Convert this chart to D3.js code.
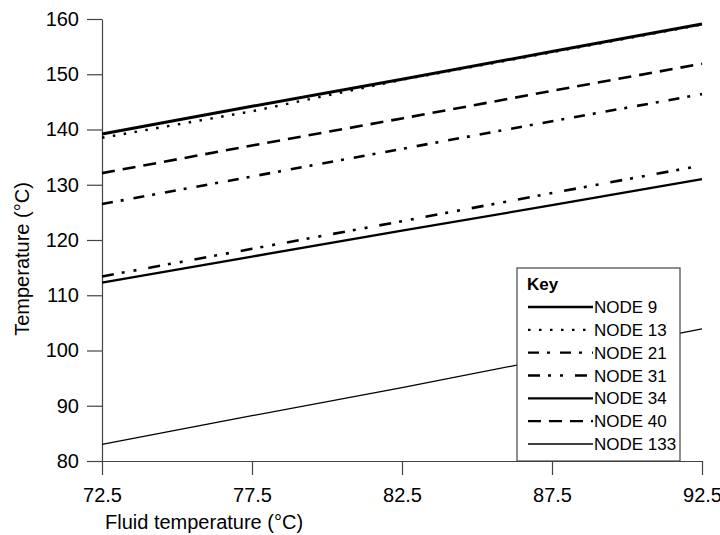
<!DOCTYPE html>
<html>
<head>
<meta charset="utf-8">
<script src="https://cdn.jsdelivr.net/npm/d3@7"></script>
<style>
  body { margin: 0; background: #fff; }
  svg { font-family: "Liberation Sans", Arial, sans-serif; }
</style>
</head>
<body>
<script>
// fluid temperature (x) values
var fluidTemps = [72.5, 77.5, 82.5, 87.5, 92.5];

// node temperatures, one array per node
var node9   = [139.2, 144.2, 149.1, 154.1, 159.1];
var node13  = [138.5, 143.3, 149.0, 154.0, 159.0];
var node21  = [126.5, 131.5, 136.5, 141.5, 146.4];
var node31  = [113.4, 118.4, 123.4, 128.5, 133.5];
var node34  = [112.3, 117.0, 121.7, 126.3, 131.0];
var node40  = [132.1, 137.1, 142.0, 147.0, 151.9];
var node133 = [83.0, 88.2, 93.3, 98.6, 103.9];

var nodeNames = ["NODE 9", "NODE 13", "NODE 21", "NODE 31", "NODE 34", "NODE 40", "NODE 133"];
var xTicks = [72.5, 77.5, 82.5, 87.5, 92.5];
var yTicks = [80, 90, 100, 110, 120, 130, 140, 150, 160];

// line styles
var styles = {
  "NODE 9":   {width: 3,   dash: null},
  "NODE 13":  {width: 2.5, dash: "2.5,8.5"},
  "NODE 21":  {width: 2.6, dash: "11,8,3,10"},
  "NODE 31":  {width: 2.6, dash: "12,8,3,9,3,12"},
  "NODE 34":  {width: 2.3, dash: null},
  "NODE 40":  {width: 2.6, dash: "13,8"},
  "NODE 133": {width: 1.3, dash: null}
};

var series = [
  {name: "NODE 9", values: node9},
  {name: "NODE 13", values: node13},
  {name: "NODE 21", values: node21},
  {name: "NODE 31", values: node31},
  {name: "NODE 34", values: node34},
  {name: "NODE 40", values: node40},
  {name: "NODE 133", values: node133}
];

var w = 720, h = 535;
var plotLeft = 102, plotRight = 702, plotTop = 19, plotBottom = 461;

var svg = d3.select("body").append("svg")
  .attr("width", w)
  .attr("height", h);

var x = d3.scaleLinear().domain([72.5, 92.5]).range([plotLeft, plotRight]);
var y = d3.scaleLinear().domain([80, 160]).range([plotBottom, plotTop]);

var axisColor = "#444";

// y axis
var gy = svg.append("g")
  .attr("transform", "translate(" + plotLeft + ",0)")
  .call(d3.axisLeft(y).tickValues(yTicks).tickSize(15).tickSizeOuter(0).tickPadding(8));

// x axis
var gx = svg.append("g")
  .attr("transform", "translate(0," + plotBottom + ")")
  .call(d3.axisBottom(x).tickValues(xTicks).tickSize(14).tickSizeOuter(0).tickPadding(13)
    .tickFormat(d3.format(".1f")));

[gx, gy].forEach(function(g) {
  g.select(".domain").attr("stroke", axisColor).attr("stroke-width", 1.2);
  g.selectAll(".tick line").attr("stroke", axisColor).attr("stroke-width", 1.2);
  g.selectAll(".tick text")
    .attr("fill", "#000")
    .style("font-size", "20px")
    .style("font-family", "'Liberation Sans', Arial, sans-serif");
});

// axis titles
svg.append("text")
  .attr("x", 105)
  .attr("y", 529)
  .style("font-size", "20px")
  .text("Fluid temperature (\u00B0C)");

svg.append("text")
  .attr("transform", "translate(29,259) rotate(-90)")
  .attr("text-anchor", "middle")
  .style("font-size", "20px")
  .text("Temperature (\u00B0C)");

// lines
var line = d3.line()
  .x(function(d, i) { return x(fluidTemps[i]); })
  .y(function(d) { return y(d); });

svg.selectAll("path.node")
  .data(series)
  .enter()
  .append("path")
  .attr("class", "node")
  .attr("d", function(d) { return line(d.values); })
  .attr("fill", "none")
  .attr("stroke", "#000")
  .attr("stroke-width", function(d) { return styles[d.name].width; })
  .attr("stroke-dasharray", function(d) { return styles[d.name].dash; });

// legend
var lgX = 517, lgY = 268, lgW = 163, lgH = plotBottom - 268;
var lg = svg.append("g");

lg.append("rect")
  .attr("x", lgX)
  .attr("y", lgY)
  .attr("width", lgW)
  .attr("height", lgH)
  .attr("fill", "#fff")
  .attr("stroke", axisColor)
  .attr("stroke-width", 1.2);

lg.append("text")
  .attr("x", lgX + 10)
  .attr("y", lgY + 22)
  .style("font-size", "17px")
  .style("font-weight", "bold")
  .text("Key");

var rowY = d3.scalePoint().domain(nodeNames).range([lgY + 39, lgY + 176]);

var rows = lg.selectAll("g.row")
  .data(nodeNames)
  .enter()
  .append("g")
  .attr("class", "row")
  .attr("transform", function(d) { return "translate(0," + rowY(d) + ")"; });

rows.append("line")
  .attr("x1", lgX + 11)
  .attr("x2", lgX + 76)
  .attr("stroke", "#000")
  .attr("stroke-width", function(d) { return Math.min(styles[d].width, 2.4); })
  .attr("stroke-dasharray", function(d) { return styles[d].dash; });

rows.append("text")
  .attr("x", lgX + 77)
  .attr("dy", "0.36em")
  .style("font-size", "17px")
  .text(function(d) { return d; });
</script>
</body>
</html>
